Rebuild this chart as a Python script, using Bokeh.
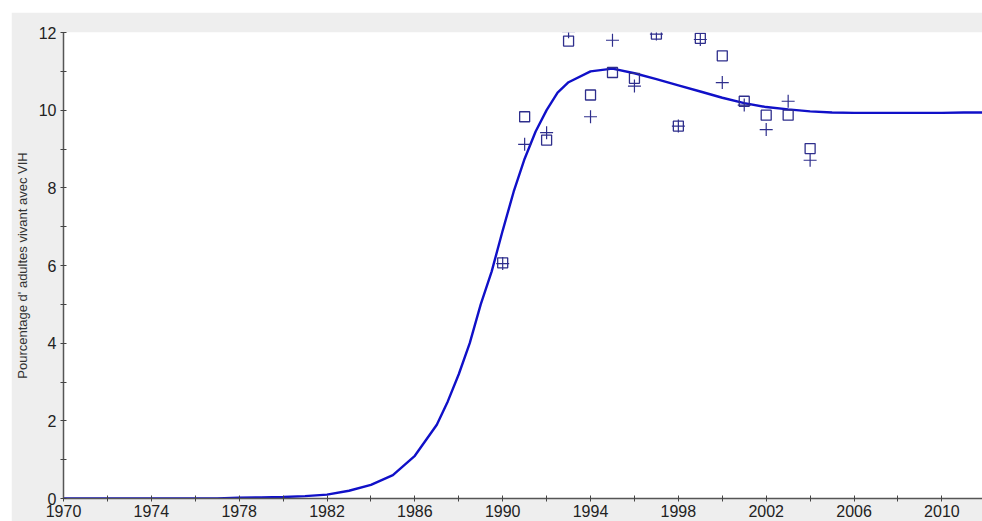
from bokeh.plotting import figure
from bokeh.models import Range1d, FixedTicker
from bokeh.embed import file_html
from bokeh.resources import INLINE

# Fitted curve
curve_years = [1970, 1971, 1972, 1973, 1974, 1975, 1976, 1977, 1978, 1979, 1980,
               1981, 1982, 1983, 1984, 1985, 1986, 1987, 1987.5, 1988, 1988.5,
               1989, 1989.5, 1990, 1990.5, 1991, 1991.5, 1992, 1992.5, 1993,
               1994, 1995, 1996, 1997, 1998, 1999, 2000, 2001, 2002, 2003,
               2004, 2005, 2006, 2007, 2008, 2009, 2010, 2011, 2012]
curve_values = [0.0, 0.0, 0.0, 0.0, 0.0, 0.0, 0.0, 0.0, 0.02, 0.03, 0.04,
                0.06, 0.1, 0.2, 0.35, 0.6, 1.1, 1.9, 2.5, 3.2, 4.0,
                5.0, 5.85, 6.9, 7.9, 8.75, 9.45, 10.0, 10.45, 10.72,
                11.0, 11.07, 10.95, 10.8, 10.64, 10.48, 10.32, 10.18, 10.08, 10.02,
                9.97, 9.94, 9.93, 9.93, 9.93, 9.93, 9.93, 9.94, 9.94]

# Observed points: squares
square_years = [1990, 1991, 1992, 1993, 1994, 1995, 1996, 1997, 1998, 1999,
                2000, 2001, 2002, 2003, 2004]
square_values = [6.07, 9.83, 9.23, 11.78, 10.39, 10.97, 10.82, 11.96, 9.59, 11.85,
                 11.4, 10.23, 9.87, 9.87, 9.01]

# Observed points: plus signs
plus_years = [1990, 1991, 1992, 1993, 1994, 1995, 1996, 1997, 1998, 1999,
              2000, 2001, 2002, 2003, 2004]
plus_values = [6.05, 9.12, 9.42, 12.02, 9.83, 11.8, 10.62, 11.96, 9.59, 11.82,
               10.71, 10.13, 9.5, 10.23, 8.71]

x_major_ticks = [1970, 1974, 1978, 1982, 1986, 1990, 1994, 1998, 2002, 2006, 2010]
x_minor_ticks = [1972, 1976, 1980, 1984, 1988, 1992, 1996, 2000, 2004, 2008, 2012]
y_major_ticks = [0, 2, 4, 6, 8, 10, 12]
y_minor_ticks = [1, 3, 5, 7, 9, 11]

y_label = "Pourcentage d' adultes vivant avec VIH"

FONT = "Liberation Sans"
MARK = "#2e2e8c"

p = figure(width=971, height=509, output_backend="svg", toolbar_location=None,
           x_range=Range1d(1970, 2011.85), y_range=Range1d(0, 12),
           min_border_left=49, min_border_right=0, min_border_top=20,
           min_border_bottom=23)
p.margin = (12, 0, 0, 11)

p.border_fill_color = "#eeeeee"
p.background_fill_color = "white"
p.outline_line_color = None
p.grid.visible = False

p.line(curve_years, curve_values, line_color="#1010c8", line_width=2.4)

p.scatter(square_years, square_values, marker="square", size=10,
          fill_color=None, line_color=MARK, line_width=1.3)
p.scatter(plus_years, plus_values, marker="cross", size=13,
          line_color=MARK, line_width=1.2)

xa = p.xaxis[0]
xa.ticker = FixedTicker(ticks=x_major_ticks, minor_ticks=x_minor_ticks)
ya = p.yaxis[0]
ya.ticker = FixedTicker(ticks=y_major_ticks, minor_ticks=y_minor_ticks)
ya.axis_label = y_label

for ax in (xa, ya):
    ax.axis_line_color = "#555555"
    ax.axis_line_width = 1.5
    ax.major_tick_line_color = "#444444"
    ax.minor_tick_line_color = "#444444"
    ax.major_tick_in = 3
    ax.major_tick_out = 3
    ax.minor_tick_in = 3
    ax.minor_tick_out = 3
    ax.major_label_text_font = FONT
    ax.major_label_text_font_size = "16px"
    ax.major_label_text_color = "#222222"

xa.major_label_standoff = 3
ya.major_label_standoff = 4
ya.axis_label_text_font = FONT
ya.axis_label_text_font_size = "13px"
ya.axis_label_text_font_style = "normal"
ya.axis_label_text_color = "#333333"
ya.axis_label_standoff = 6

open("out.html", "w").write(file_html(p, INLINE))
